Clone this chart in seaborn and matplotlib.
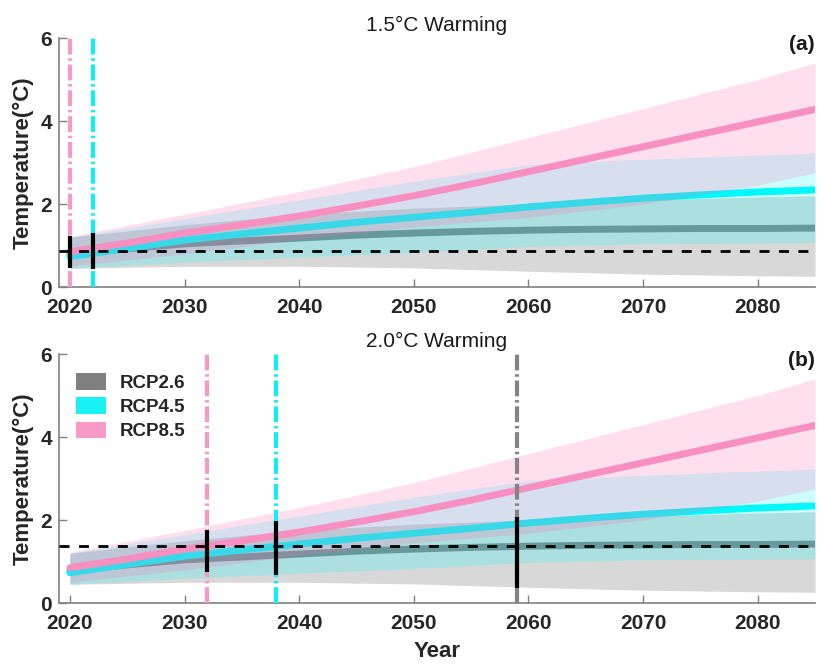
import matplotlib
matplotlib.use("Agg")
import matplotlib.pyplot as plt
import matplotlib.patches as mpatches
import pandas as pd
import seaborn as sns

# ---- ensemble mean warming (relative to baseline), 5-year steps ----
years = [2020, 2025, 2030, 2035, 2040, 2045, 2050, 2055, 2060, 2065, 2070, 2075, 2080, 2085]
rcp26_mean = [0.78, 0.92, 1.04, 1.11, 1.18, 1.25, 1.30, 1.34, 1.37, 1.39, 1.40, 1.41, 1.41, 1.42]
rcp45_mean = [0.73, 0.93, 1.13, 1.28, 1.42, 1.56, 1.68, 1.80, 1.93, 2.04, 2.14, 2.22, 2.29, 2.34]
rcp85_mean = [0.85, 1.06, 1.30, 1.50, 1.71, 1.95, 2.20, 2.48, 2.78, 3.08, 3.38, 3.68, 3.98, 4.28]

# ---- ensemble spread ----
band_years = [2020, 2030, 2040, 2050, 2060, 2070, 2080, 2085]
rcp26_low = [0.45, 0.50, 0.50, 0.46, 0.38, 0.31, 0.27, 0.26]
rcp26_high = [1.20, 1.50, 1.75, 1.90, 2.00, 2.10, 2.17, 2.20]
rcp45_low = [0.45, 0.60, 0.72, 0.83, 0.98, 1.04, 1.06, 1.07]
rcp45_high = [1.20, 1.65, 2.10, 2.55, 2.95, 3.08, 3.18, 3.23]
rcp85_low = [0.50, 0.80, 1.15, 1.45, 1.68, 2.00, 2.45, 2.75]
rcp85_high = [1.22, 1.75, 2.30, 2.90, 3.60, 4.30, 5.00, 5.40]

scenarios = ["RCP2.6", "RCP4.5", "RCP8.5"]

# ---- warming levels ----
panel_titles = ["1.5\u00b0C Warming", "2.0\u00b0C Warming"]
panel_tags = ["(a)", "(b)"]
thresholds = [0.87, 1.37]

# year each scenario reaches the level, per panel
cross_scenarios = [["RCP8.5", "RCP4.5"], ["RCP8.5", "RCP4.5", "RCP2.6"]]
cross_years = [[2020, 2022], [2032, 2038, 2059]]
cross_low = [[0.45, 0.43], [0.75, 0.67, 0.36]]
cross_high = [[1.22, 1.30], [1.77, 1.98, 2.08]]

xticks = [2020, 2030, 2040, 2050, 2060, 2070, 2080]
yticks = [0, 2, 4, 6]

line_colors = {"RCP2.6": "#808080", "RCP4.5": "#00f8f8", "RCP8.5": "#f78fc0"}
band_colors = {"RCP2.6": "#808080", "RCP4.5": "#00ffff", "RCP8.5": "#ff6eb4"}
band_alpha = {"RCP2.6": 0.30, "RCP4.5": 0.20, "RCP8.5": 0.22}
vline_colors = {"RCP2.6": "#848484", "RCP4.5": "#10f0f0", "RCP8.5": "#f59ac6"}
legend_colors = {"RCP2.6": "#808080", "RCP4.5": "#18f2f2", "RCP8.5": "#f89ac8"}

means = {"RCP2.6": rcp26_mean, "RCP4.5": rcp45_mean, "RCP8.5": rcp85_mean}
lows = {"RCP2.6": rcp26_low, "RCP4.5": rcp45_low, "RCP8.5": rcp85_low}
highs = {"RCP2.6": rcp26_high, "RCP4.5": rcp45_high, "RCP8.5": rcp85_high}

sns.set_theme(style="ticks")
plt.rcParams["font.family"] = ["Liberation Sans", "DejaVu Sans"]

fig = plt.figure(figsize=(8.21, 6.65), dpi=100)
axes = [fig.add_axes([0.0719, 0.5684, 0.9208, 0.3744]),
        fig.add_axes([0.0719, 0.0932, 0.9208, 0.3744])]

for p, ax in enumerate(axes):
    for i, sc in enumerate(scenarios):
        ax.fill_between(band_years, lows[sc], highs[sc], color=band_colors[sc],
                        alpha=band_alpha[sc], linewidth=0, zorder=2 + 2 * i)
        df = pd.DataFrame({"year": years, "temp": means[sc]})
        sns.lineplot(data=df, x="year", y="temp", ax=ax, color=line_colors[sc],
                     linewidth=5, zorder=3 + 2 * i, legend=False)

    for sc, yr in zip(cross_scenarios[p], cross_years[p]):
        ax.axvline(yr, color=vline_colors[sc], linewidth=3,
                   linestyle=(0, (3.8, 0.9, 0.6, 0.9)), zorder=10)
    ax.axhline(thresholds[p], color="black", linewidth=2,
               linestyle=(0, (3.6, 3.4)), zorder=11)
    ax.vlines(cross_years[p], cross_low[p], cross_high[p], color="black",
              linewidth=3, zorder=12)

    ax.set_xlim(2019.05, 2085)
    ax.set_ylim(0, 6)
    ax.set_xticks(xticks)
    ax.set_yticks(yticks)
    ax.tick_params(direction="in", length=6, width=1.0, color="#808080",
                   labelsize=15, labelcolor="#262626")
    ax.tick_params(axis="x", pad=8)
    ax.tick_params(axis="y", pad=5)
    for lab in ax.get_xticklabels() + ax.get_yticklabels():
        lab.set_fontweight("bold")
    for side in ["top", "right"]:
        ax.spines[side].set_visible(False)
    for side in ["left", "bottom"]:
        ax.spines[side].set_color("#808080")
        ax.spines[side].set_linewidth(1.2)

    ax.set_xlabel("")
    ax.set_ylabel("Temperature(\u00b0C)", fontsize=16, fontweight="bold",
                  color="#262626")
    ax.yaxis.set_label_coords(-0.034, 0.5)
    ax.set_title(panel_titles[p], fontsize=15, pad=5, color="#1a1a1a")
    ax.text(1.0, 0.975, panel_tags[p], transform=ax.transAxes, ha="right",
            va="center", fontsize=15, fontweight="bold", color="#1a1a1a",
            zorder=20)

axes[1].set_xlabel("Year", fontsize=16, fontweight="bold", color="#262626",
                   labelpad=6)

handles = [mpatches.Patch(facecolor=legend_colors[sc], edgecolor="none", label=sc)
           for sc in scenarios]
axes[1].legend(handles=handles, loc="upper left", bbox_to_anchor=(0.012, 0.955),
               frameon=False, prop={"weight": "bold", "size": 13.5},
               handlelength=1.6, handleheight=1.0, handletextpad=0.75,
               labelspacing=0.3, borderaxespad=0.0)

fig.savefig("out.png", dpi=100)
